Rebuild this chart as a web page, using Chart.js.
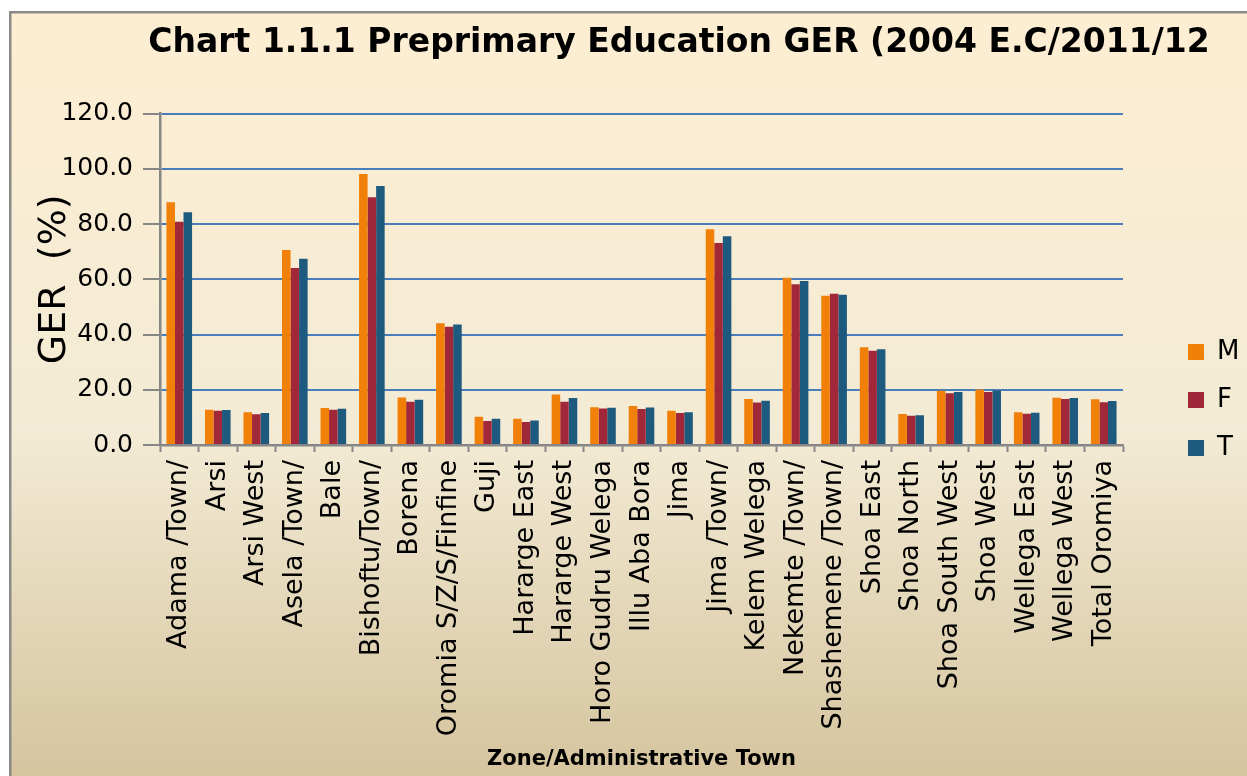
<!DOCTYPE html>
<html>
<head>
<meta charset="utf-8">
<title>Preprimary Education GER</title>
<script src="https://cdn.jsdelivr.net/npm/chart.js@4.4.1/dist/chart.umd.min.js"></script>
<style>
    html, body { margin: 0; padding: 0; background: #ffffff; }
    #gerChart { display: block; }
</style>
</head>
<body>
<canvas id="gerChart" width="1247" height="776"></canvas>
<script>
const CANVAS_ID = "gerChart";

// zones / administrative towns
const ZONES = [
    "Adama /Town/", "Arsi", "Arsi West", "Asela /Town/", "Bale", "Bishoftu/Town/",
    "Borena", "Oromia S/Z/S/Finfine", "Guji", "Hararge East", "Hararge West",
    "Horo Gudru Welega", "Illu Aba Bora", "Jima", "Jima /Town/", "Kelem Welega",
    "Nekemte /Town/", "Shashemene /Town/", "Shoa East", "Shoa North",
    "Shoa South West", "Shoa West", "Wellega East", "Wellega West", "Total Oromiya"
];

// GER (%)
const GER_M = [87.9, 12.8, 11.9, 70.6, 13.4, 98.1, 17.2, 44.1, 10.2, 9.5, 18.3, 13.7, 14.1,
               12.4, 78.1, 16.7, 60.6, 54.0, 35.4, 11.2, 19.6, 20.1, 11.9, 17.1, 16.6];
const GER_F = [80.8, 12.4, 11.1, 64.1, 12.8, 89.7, 15.7, 42.8, 8.7, 8.3, 15.7, 13.2, 13.0,
               11.6, 73.1, 15.4, 58.2, 54.8, 34.1, 10.6, 18.7, 19.2, 11.3, 16.7, 15.5];
const GER_T = [84.3, 12.7, 11.6, 67.4, 13.1, 93.8, 16.4, 43.6, 9.5, 8.9, 17.0, 13.5, 13.6,
               11.9, 75.6, 16.0, 59.4, 54.4, 34.7, 10.8, 19.2, 19.7, 11.7, 17.0, 15.9];

const Y_MIN = 0;
const Y_MAX = 120;
const Y_STEP = 20;

const FONT = "'DejaVu Sans', Verdana, sans-serif";

Chart.defaults.color = "#000000";
Chart.defaults.font.family = FONT;

/**
 * Paints the cream/tan gradient frame behind everything
 */
const framePlugin = {
    id: "frame",
    beforeDraw(chart) {
        const ctx = chart.ctx;
        ctx.save();
        ctx.fillStyle = "#ffffff";
        ctx.fillRect(0, 0, chart.width, chart.height);

        // grey border
        ctx.fillStyle = "#8a8a8a";
        ctx.fillRect(9, 11, chart.width, chart.height);

        let grad = ctx.createLinearGradient(0, 13, 0, chart.height);
        grad.addColorStop(0, "#fdeed2");
        grad.addColorStop(0.55, "#f3ebd5");
        grad.addColorStop(1, "#d5c49e");
        ctx.fillStyle = grad;
        ctx.fillRect(11.5, 13.5, chart.width, chart.height);
        ctx.restore();
    }
};

/**
 * Moves the title and legend where they sit in the original
 */
const placementPlugin = {
    id: "placement",
    afterLayout(chart) {
        const title = chart.titleBlock;
        if (title) {
            let w = title.right - title.left;
            title.left = 679 - w / 2;
            title.right = 679 + w / 2;
        }
        const legend = chart.legend;
        if (legend) {
            let h = legend.height;
            legend.left = 1166;
            legend.right = chart.width;
            legend.width = legend.right - legend.left;
            legend.top = 317;
            legend.bottom = legend.top + h;
        }
    }
};

/**
 * @returns {Object} chart config
 */
function getConfigChart() {

    const data = {
        labels: ZONES,
        datasets: [
            { label: "M", data: GER_M, backgroundColor: "#f08008" },
            { label: "F", data: GER_F, backgroundColor: "#a02838" },
            { label: "T", data: GER_T, backgroundColor: "#1e5a7e" }
        ]
    };

    return {
        type: "bar",
        data: data,
        options: {
            responsive: false,
            animation: false,
            datasets: {
                bar: { categoryPercentage: 0.665, barPercentage: 1.0 }
            },
            layout: {
                padding: { left: 12, right: 64, top: 12, bottom: 0 }
            },
            scales: {
                x: {
                    grid: {
                        offset: true,
                        drawOnChartArea: false,
                        tickLength: 7,
                        tickColor: "#868686",
                        tickWidth: 2
                    },
                    border: { color: "#868686", width: 2.5 },
                    ticks: {
                        font: { size: 27 },
                        minRotation: 90,
                        maxRotation: 90,
                        autoSkip: false,
                        padding: 8
                    },
                    title: {
                        display: true,
                        text: "Zone/Administrative Town",
                        font: { size: 21, weight: "bold" },
                        padding: { top: 0, bottom: 4 }
                    },
                    afterFit(scale) { scale.height = 331; }
                },
                y: {
                    min: Y_MIN,
                    max: Y_MAX,
                    grid: {
                        color: "#4a7ebb",
                        lineWidth: 2,
                        tickLength: 17,
                        tickColor: "#868686",
                        tickWidth: 2
                    },
                    border: { color: "#868686", width: 2.5 },
                    ticks: {
                        stepSize: Y_STEP,
                        font: { size: 25 },
                        padding: 10,
                        callback: (v) => v.toFixed(1)
                    },
                    title: {
                        display: true,
                        text: "GER  (%)",
                        font: { size: 38 },
                        padding: { top: 20, bottom: 0 }
                    },
                    afterFit(scale) { scale.width = 148; }
                }
            },
            plugins: {
                legend: {
                    position: "right",
                    align: "start",
                    maxWidth: 60,
                    labels: {
                        boxWidth: 16,
                        boxHeight: 16,
                        padding: 22,
                        font: { size: 26 }
                    }
                },
                title: {
                    display: true,
                    text: "Chart 1.1.1 Preprimary Education GER (2004 E.C/2011/12",
                    font: { size: 33, weight: "bold" },
                    padding: { top: 12, bottom: 50 }
                },
                tooltip: { enabled: false }
            }
        },
        plugins: [framePlugin, placementPlugin]
    };
}

function loadChart(config) {
    let ctx = document.getElementById(CANVAS_ID).getContext("2d");
    return new Chart(ctx, config);
}

loadChart(getConfigChart());
</script>
</body>
</html>
